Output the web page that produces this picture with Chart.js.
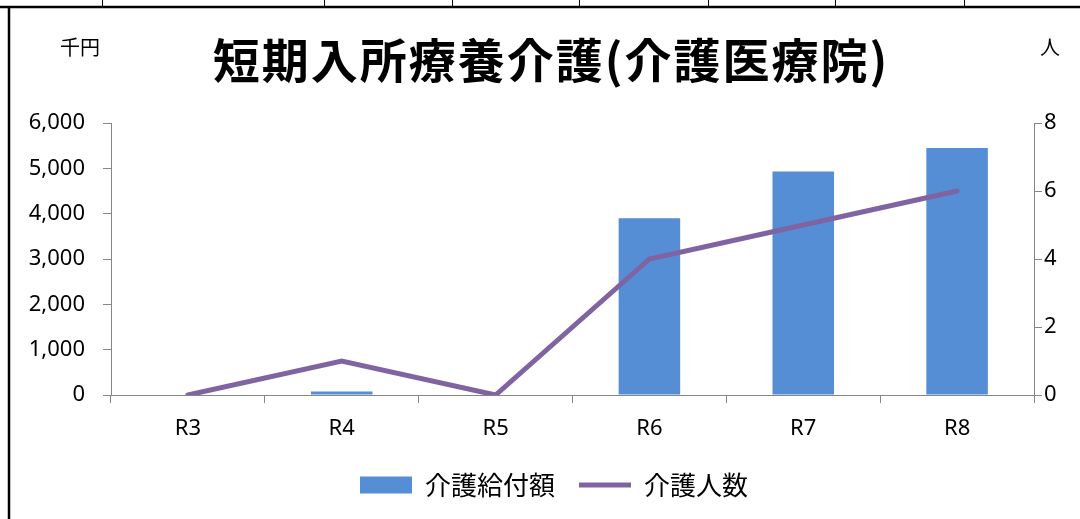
<!DOCTYPE html>
<html>
<head>
<meta charset="utf-8">
<script src="https://cdn.jsdelivr.net/npm/chart.js@4"></script>
<style>
  html, body { margin: 0; padding: 0; background: #fff; }
  #wrap { width: 1080px; height: 519px; position: relative; }
</style>
</head>
<body>
<div id="wrap"><canvas id="chart" width="1080" height="519"></canvas></div>
<script>
const years = ['R3', 'R4', 'R5', 'R6', 'R7', 'R8']
const benefit = [0, 75, 0, 3900, 4930, 5450]   // 介護給付額 (千円)
const people = [0, 1, 0, 4, 5, 6]               // 介護人数 (人)
const titleText = '短期入所療養介護(介護医療院)'

const axisGray = '#868686'
const tickFont = { family: 'Noto Sans', size: 22 }

// spreadsheet cells behind the chart, frame, title and unit labels
const decor = {
  id: 'decor',
  beforeDraw(chart) {
    const ctx = chart.ctx
    ctx.save()
    ctx.fillStyle = '#fff'
    ctx.fillRect(0, 0, chart.width, chart.height)
    ctx.strokeStyle = '#000'
    ctx.lineWidth = 1
    for (const x of [102, 324, 452, 579, 708, 835, 964]) {
      ctx.beginPath(); ctx.moveTo(x + 0.5, 0); ctx.lineTo(x + 0.5, 7); ctx.stroke()
    }
    ctx.lineWidth = 2.5
    ctx.beginPath(); ctx.moveTo(0, 7); ctx.lineTo(chart.width, 7); ctx.stroke()
    ctx.beginPath(); ctx.moveTo(9, 7); ctx.lineTo(9, chart.height); ctx.stroke()
    ctx.restore()
  },
  afterDraw(chart) {
    const ctx = chart.ctx
    ctx.save()
    ctx.fillStyle = '#000'
    ctx.textBaseline = 'middle'
    ctx.textAlign = 'center'
    ctx.font = 'bold 47px "Noto Sans CJK JP"'
    ctx.letterSpacing = '2px'
    ctx.fillText(titleText, 551, 60)
    ctx.letterSpacing = '0px'
    ctx.font = '20px "Noto Sans CJK JP"'
    ctx.textAlign = 'left'
    ctx.fillText('千円', 60, 47)
    ctx.fillText('人', 1040, 47)
    ctx.restore()
  }
}

new Chart(document.getElementById('chart'), {
  type: 'bar',
  data: {
    labels: years,
    datasets: [{
      label: '介護給付額',
      data: benefit,
      backgroundColor: '#558ED5',
      borderWidth: 0,
      barPercentage: 0.4,
      categoryPercentage: 1,
      yAxisID: 'y',
      order: 1,
      pointStyle: 'rect'
    }, {
      type: 'line',
      label: '介護人数',
      data: people,
      borderColor: '#8064A2',
      backgroundColor: '#8064A2',
      borderWidth: 5,
      borderCapStyle: 'round',
      pointRadius: 0,
      tension: 0,
      fill: false,
      yAxisID: 'y1',
      order: 0,
      pointStyle: 'line'
    }]
  },
  options: {
    responsive: false,
    animation: false,
    layout: { padding: { top: 123, bottom: 11, left: 28, right: 0 } },
    plugins: {
      title: { display: false },
      tooltip: { enabled: false },
      legend: {
        position: 'bottom',
        labels: {
          usePointStyle: true,
          pointStyleWidth: 52,
          boxHeight: 17,
          padding: 24,
          color: '#000',
          font: { family: 'Noto Sans CJK JP', size: 26 },
          sort: (a, b) => a.datasetIndex - b.datasetIndex
        }
      }
    },
    scales: {
      x: {
        grid: { offset: true, drawOnChartArea: false, color: axisGray, tickLength: 8 },
        border: { color: axisGray, width: 1 },
        ticks: { color: '#000', font: tickFont, padding: 13 },
        afterFit(scale) { scale.height = 53 }
      },
      y: {
        position: 'left',
        min: 0,
        max: 6000,
        ticks: {
          stepSize: 1000,
          color: '#000',
          font: tickFont,
          padding: 18,
          callback: (v) => v.toLocaleString('en-US')
        },
        grid: { drawOnChartArea: false, color: axisGray, tickLength: 8 },
        border: { color: axisGray, width: 1 },
        afterFit(scale) { scale.width = 83 }
      },
      y1: {
        position: 'right',
        min: 0,
        max: 8,
        ticks: { stepSize: 2, color: '#000', font: tickFont, padding: 2 },
        grid: { drawOnChartArea: false, color: axisGray, tickLength: 8 },
        border: { color: axisGray, width: 1 },
        afterFit(scale) { scale.width = 46 }
      }
    }
  },
  plugins: [decor]
})
</script>
</body>
</html>
